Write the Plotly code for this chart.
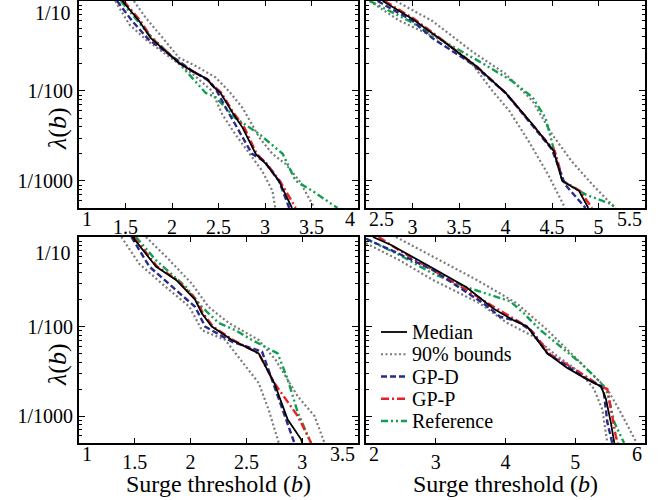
import math
import plotly.graph_objects as go

# ---------------- data (surge threshold b, rate lambda(b)) ----------------
# Top-left panel
tl_med_x = [1.466, 1.645, 1.77, 1.93, 2.075, 2.22, 2.38, 2.43, 2.52, 2.65, 2.76, 2.90, 3.01, 3.15, 3.29]
tl_med_y = [0.1, 0.0603, 0.0389, 0.0275, 0.0204, 0.0166, 0.0135, 0.0115, 0.00955, 0.00575, 0.00389, 0.00200, 0.00155, 0.00100, 0.000501]
tl_gpp_x = [1.48, 1.66, 1.78, 1.94, 2.08, 2.22, 2.38, 2.44, 2.53, 2.66, 2.78, 2.91, 3.02, 3.16, 3.33]
tl_gpp_y = [0.1, 0.0603, 0.0389, 0.0275, 0.0204, 0.0166, 0.0135, 0.0115, 0.00955, 0.00575, 0.00389, 0.00200, 0.00155, 0.00100, 0.000501]
tl_gpd_x = [1.41, 1.57, 1.75, 1.93, 2.22, 2.40, 2.47, 2.58, 2.72, 2.86, 2.99, 3.15, 3.26]
tl_gpd_y = [0.1, 0.0603, 0.0372, 0.0275, 0.0166, 0.0129, 0.0105, 0.00646, 0.00363, 0.00200, 0.00166, 0.00100, 0.000501]
tl_ref_x = [1.45, 1.75, 2.075, 2.15, 2.36, 2.47, 2.68, 2.94, 3.19, 3.33, 3.51, 3.72, 3.78]
tl_ref_y = [0.1, 0.0427, 0.0204, 0.0166, 0.00955, 0.00851, 0.00501, 0.00331, 0.00200, 0.00100, 0.000776, 0.000550, 0.000501]
tl_lo_x = [1.39, 1.54, 1.72, 1.93, 2.22, 2.43, 2.54, 2.68, 2.83, 2.97, 3.08, 3.11]
tl_lo_y = [0.1, 0.0550, 0.0372, 0.0257, 0.0155, 0.0100, 0.00550, 0.00331, 0.00200, 0.00129, 0.000776, 0.000501]
tl_hi_x = [1.59, 1.72, 1.90, 2.075, 2.25, 2.47, 2.61, 2.76, 2.94, 3.08, 3.22, 3.37, 3.51, 3.53]
tl_hi_y = [0.1, 0.0646, 0.0389, 0.0234, 0.0191, 0.0141, 0.0100, 0.00646, 0.00302, 0.00200, 0.00155, 0.00100, 0.000550, 0.000501]

# Top-right panel
tr_med_x = [2.68, 3.0, 3.32, 3.68, 4.0, 4.29, 4.52, 4.61, 4.79, 4.89]
tr_med_y = [0.1, 0.0631, 0.0363, 0.0191, 0.00955, 0.00427, 0.00214, 0.00100, 0.000776, 0.000501]
tr_gpp_x = [2.70, 3.02, 3.33, 3.68, 4.0, 4.29, 4.53, 4.62, 4.80, 4.93]
tr_gpp_y = [0.1, 0.0631, 0.0363, 0.0191, 0.00955, 0.00427, 0.00214, 0.00100, 0.000776, 0.000501]
tr_gpd_x = [2.625, 3.0, 3.21, 3.64, 4.0, 4.5, 4.64, 4.86]
tr_gpd_y = [0.1, 0.0603, 0.0389, 0.0200, 0.00955, 0.00224, 0.000912, 0.000501]
tr_ref_x = [2.54, 2.96, 3.39, 3.75, 4.07, 4.29, 4.43, 4.50, 4.61, 4.86, 5.14, 5.18]
tr_ref_y = [0.1, 0.0603, 0.0331, 0.0204, 0.0129, 0.00851, 0.00501, 0.00275, 0.00100, 0.000708, 0.000550, 0.000501]
tr_lo_x = [2.54, 2.86, 3.32, 3.64, 3.86, 4.04, 4.25, 4.46, 4.64]
tr_lo_y = [0.1, 0.0603, 0.0363, 0.0200, 0.0100, 0.00603, 0.00275, 0.00117, 0.000501]
tr_hi_x = [2.82, 3.21, 3.64, 4.0, 4.29, 4.5, 4.71, 4.96, 5.18]
tr_hi_y = [0.1, 0.0603, 0.0275, 0.0155, 0.00776, 0.00331, 0.00166, 0.000851, 0.000501]

# Bottom-left panel
bl_med_x = [1.48, 1.69, 1.87, 2.04, 2.10, 2.19, 2.37, 2.61, 2.75, 2.87, 2.99, 3.0]
bl_med_y = [0.1, 0.0468, 0.0331, 0.0200, 0.0141, 0.0100, 0.00708, 0.00501, 0.00234, 0.000912, 0.000550, 0.000501]
bl_gpp_x = [1.49, 1.70, 1.88, 2.05, 2.11, 2.20, 2.38, 2.61, 2.75, 2.96, 3.08]
bl_gpp_y = [0.1, 0.0468, 0.0331, 0.0200, 0.0141, 0.0100, 0.00708, 0.00501, 0.00234, 0.00100, 0.000501]
bl_gpd_x = [1.47, 1.63, 1.84, 2.04, 2.13, 2.37, 2.64, 2.72, 2.84, 2.93]
bl_gpd_y = [0.1, 0.0468, 0.0275, 0.0166, 0.0100, 0.00676, 0.00525, 0.00275, 0.00100, 0.000501]
bl_ref_x = [1.51, 1.69, 1.96, 2.10, 2.25, 2.40, 2.55, 2.78, 2.87, 2.96, 3.05, 3.08]
bl_ref_y = [0.1, 0.0550, 0.0275, 0.0166, 0.0110, 0.00912, 0.00708, 0.00501, 0.00257, 0.00110, 0.000603, 0.000501]
bl_lo_x = [1.38, 1.54, 1.78, 1.99, 2.10, 2.31, 2.61, 2.70, 2.78, 2.79]
bl_lo_y = [0.1, 0.0501, 0.0275, 0.0166, 0.00912, 0.00708, 0.00234, 0.00117, 0.000550, 0.000501]
bl_hi_x = [1.60, 1.78, 2.01, 2.16, 2.34, 2.61, 2.76, 2.96, 3.11, 3.20]
bl_hi_y = [0.1, 0.0603, 0.0302, 0.0166, 0.0110, 0.00708, 0.00427, 0.00166, 0.00100, 0.000501]

# Bottom-right panel
br_med_x = [2.10, 2.36, 2.87, 3.44, 3.83, 4.12, 4.31, 4.60, 4.88, 5.17, 5.37, 5.44, 5.51, 5.56]
br_med_y = [0.1, 0.0813, 0.0490, 0.0275, 0.0158, 0.0117, 0.0100, 0.00501, 0.00347, 0.00257, 0.00214, 0.00155, 0.000851, 0.000501]
br_gpp_x = [2.18, 2.48, 2.96, 3.44, 3.83, 4.31, 4.40, 4.64, 5.08, 5.37, 5.46, 5.51, 5.58, 5.61]
br_gpp_y = [0.1, 0.0708, 0.0427, 0.0257, 0.0166, 0.0100, 0.00851, 0.00490, 0.00302, 0.00214, 0.00200, 0.00117, 0.000603, 0.000501]
br_gpd_x = [2.0, 2.48, 2.96, 3.68, 3.92, 4.16, 4.36, 4.60, 4.88, 5.13, 5.37, 5.41, 5.46, 5.53]
br_gpd_y = [0.0955, 0.0646, 0.0427, 0.0182, 0.0129, 0.0115, 0.00912, 0.00501, 0.00363, 0.00269, 0.00214, 0.00182, 0.000851, 0.000501]
br_ref_x = [2.0, 2.48, 2.96, 3.44, 4.07, 4.26, 4.50, 4.79, 5.08, 5.37, 5.46, 5.56, 5.70]
br_ref_y = [0.0955, 0.0631, 0.0389, 0.0275, 0.0191, 0.0141, 0.00912, 0.00603, 0.00389, 0.00234, 0.00182, 0.000851, 0.000501]
br_lo_x = [2.0, 2.48, 2.96, 3.63, 4.02, 4.40, 4.74, 5.08, 5.27, 5.39, 5.46]
br_lo_y = [0.0851, 0.0550, 0.0331, 0.0182, 0.0110, 0.00776, 0.00468, 0.00302, 0.00200, 0.00117, 0.000501]
br_hi_x = [2.43, 2.96, 3.59, 4.16, 4.60, 4.98, 5.32, 5.46, 5.65, 5.85, 5.88]
br_hi_y = [0.1, 0.0603, 0.0331, 0.0182, 0.00912, 0.00468, 0.00257, 0.00200, 0.00110, 0.000550, 0.000501]

# axis ranges and tick labels
x_ranges = [[1, 4], [2.5, 5.5], [1, 3.5], [2, 6]]
x_ticks = [[1, 1.5, 2, 2.5, 3, 3.5, 4],
           [2.5, 3, 3.5, 4, 4.5, 5, 5.5],
           [1, 1.5, 2, 2.5, 3, 3.5],
           [2, 3, 4, 5, 6]]
x_ticktext = [["1", "1.5", "2", "2.5", "3", "3.5", "4"],
              ["2.5", "3", "3.5", "4", "4.5", "5", "5.5"],
              ["1", "1.5", "2", "2.5", "3", "3.5"],
              ["2", "3", "4", "5", "6"]]
y_tickvals = [0.1, 0.01, 0.001]
y_ticktext = ["1/10", "1/100", "1/1000"]
y_range = [1 / 2000, 1 / 10]
series_names = ["Median", "90% bounds", "GP-D", "GP-P", "Reference"]

# ---------------- styling ----------------
W, H = 662, 500
FONT = "Liberation Serif"
C_MED = "#000000"
C_BND = "#7a7a7a"
C_GPD = "#2a2a8c"
C_GPP = "#e8202a"
C_REF = "#12a050"
styles = {
    "Median": dict(color=C_MED, width=1.8, dash="solid"),
    "90% bounds": dict(color=C_BND, width=2.2, dash="2px,2.5px"),
    "GP-D": dict(color=C_GPD, width=2.4, dash="6px,3px"),
    "GP-P": dict(color=C_GPP, width=2.4, dash="8px,3px,2px,3px"),
    "Reference": dict(color=C_REF, width=2.4, dash="7px,3px,2px,3px,2px,3px"),
}

# panel pixel boxes (left, right, top, bottom) and offset of the top "1/10" label
boxes = [(79, 358, 1, 208), (366, 645, 1, 208), (79, 358, 237, 443), (366, 645, 237, 443)]
top_label_offset = [12, 0, 16, 0]

panels = [
    dict(lo=(tl_lo_x, tl_lo_y), hi=(tl_hi_x, tl_hi_y), ref=(tl_ref_x, tl_ref_y),
         gpp=(tl_gpp_x, tl_gpp_y), gpd=(tl_gpd_x, tl_gpd_y), med=(tl_med_x, tl_med_y)),
    dict(lo=(tr_lo_x, tr_lo_y), hi=(tr_hi_x, tr_hi_y), ref=(tr_ref_x, tr_ref_y),
         gpp=(tr_gpp_x, tr_gpp_y), gpd=(tr_gpd_x, tr_gpd_y), med=(tr_med_x, tr_med_y)),
    dict(lo=(bl_lo_x, bl_lo_y), hi=(bl_hi_x, bl_hi_y), ref=(bl_ref_x, bl_ref_y),
         gpp=(bl_gpp_x, bl_gpp_y), gpd=(bl_gpd_x, bl_gpd_y), med=(bl_med_x, bl_med_y)),
    dict(lo=(br_lo_x, br_lo_y), hi=(br_hi_x, br_hi_y), ref=(br_ref_x, br_ref_y),
         gpp=(br_gpp_x, br_gpp_y), gpd=(br_gpd_x, br_gpd_y), med=(br_med_x, br_med_y)),
]

fig = go.Figure()
minor_vals = [k * 10.0 ** e for e in (-4, -3, -2, -1) for k in range(2, 10)]
annotations = []
shapes = []

for i, p in enumerate(panels):
    suf = "" if i == 0 else str(i + 1)
    xa, ya = "x" + suf, "y" + suf
    order = [("lo", "90% bounds"), ("hi", "90% bounds"), ("ref", "Reference"),
             ("gpp", "GP-P"), ("gpd", "GP-D"), ("med", "Median")]
    for key, name in order:
        xs, ys = p[key]
        fig.add_trace(go.Scatter(x=xs, y=ys, mode="lines", name=name, line=styles[name],
                                 xaxis=xa, yaxis=ya, showlegend=False, hoverinfo="skip",
                                 cliponaxis=True))
    l, r, t, b = boxes[i]
    xdom = [l / W, r / W]
    ydom = [1 - b / H, 1 - t / H]
    ticktext = list(x_ticktext[i])
    edge_left, edge_right = ticktext[0], ticktext[-1]
    ticktext[0] = ""
    ticktext[-1] = ""
    fig.layout["xaxis" + suf] = dict(
        domain=xdom, anchor=ya, range=x_ranges[i], tickvals=x_ticks[i], ticktext=ticktext,
        showline=True, linewidth=2, linecolor="black", mirror="ticks",
        ticks="inside", ticklen=5, tickwidth=1.3, tickcolor="black",
        showgrid=False, zeroline=False,
        tickfont=dict(family=FONT, size=20, color="black"),
    )
    left_col = i in (0, 2)
    fig.layout["yaxis" + suf] = dict(
        domain=ydom, anchor=xa, type="log",
        range=[math.log10(y_range[0]), math.log10(y_range[1])],
        tickvals=y_tickvals, ticktext=["", y_ticktext[1], y_ticktext[2]],
        showticklabels=left_col,
        showline=True, linewidth=2, linecolor="black", mirror="ticks",
        ticks="inside", ticklen=6, tickwidth=1.3, tickcolor="black",
        minor=dict(ticks="inside", ticklen=3, tickwidth=1, tickcolor="black",
                   tickvals=minor_vals, showgrid=False),
        showgrid=False, zeroline=False,
        tickfont=dict(family=FONT, size=20, color="black"),
    )
    # edge x tick labels pushed inward
    ylab = 1 - (b + 11) / H
    annotations.append(dict(text=edge_left, x=x_ranges[i][0], xref=xa, y=ylab, yref="paper",
                            xanchor="left", yanchor="middle", xshift=1, showarrow=False,
                            font=dict(family=FONT, size=20, color="black")))
    annotations.append(dict(text=edge_right, x=x_ranges[i][1], xref=xa, y=ylab, yref="paper",
                            xanchor="right", yanchor="middle", xshift=-1, showarrow=False,
                            font=dict(family=FONT, size=20, color="black")))
    if left_col:
        annotations.append(dict(text=y_ticktext[0], x=73 / W, xref="paper",
                                y=1 - (t + top_label_offset[i]) / H,
                                yref="paper", xanchor="right", yanchor="middle", showarrow=False,
                                font=dict(family=FONT, size=20, color="black")))
        annotations.append(dict(text="<i>λ</i>(<i>b</i>)", x=57 / W, xref="paper",
                                y=1 - (t + 128) / H, yref="paper", textangle=-90,
                                xanchor="center", yanchor="middle", showarrow=False,
                                font=dict(family=FONT, size=26, color="black")))
    if i >= 2:
        annotations.append(dict(text="Surge threshold (<i>b</i>)", x=0.5, xref=xa + " domain",
                                y=1 - 484 / H, yref="paper", xanchor="center", yanchor="middle",
                                showarrow=False, font=dict(family=FONT, size=24, color="black")))

# manual legend inside the bottom-right panel
leg_rows = [332, 354.25, 376.5, 398.75, 421]
for name, yy in zip(series_names, leg_rows):
    st = styles[name]
    shapes.append(dict(type="line", xref="paper", yref="paper",
                       x0=381 / W, x1=407 / W, y0=1 - yy / H, y1=1 - yy / H,
                       line=dict(color=st["color"], width=st["width"], dash=st["dash"])))
    annotations.append(dict(text=name, x=410 / W, xref="paper", y=1 - yy / H, yref="paper",
                            xanchor="left", yanchor="middle", showarrow=False,
                            font=dict(family=FONT, size=20, color="black")))

fig.update_layout(
    width=W, height=H, margin=dict(l=0, r=0, t=0, b=0),
    paper_bgcolor="white", plot_bgcolor="white",
    showlegend=False, annotations=annotations, shapes=shapes,
    font=dict(family=FONT, color="black"),
)

fig.write_html("out.html", config={"displayModeBar": False},
               post_script="document.body.style.margin='0';")
